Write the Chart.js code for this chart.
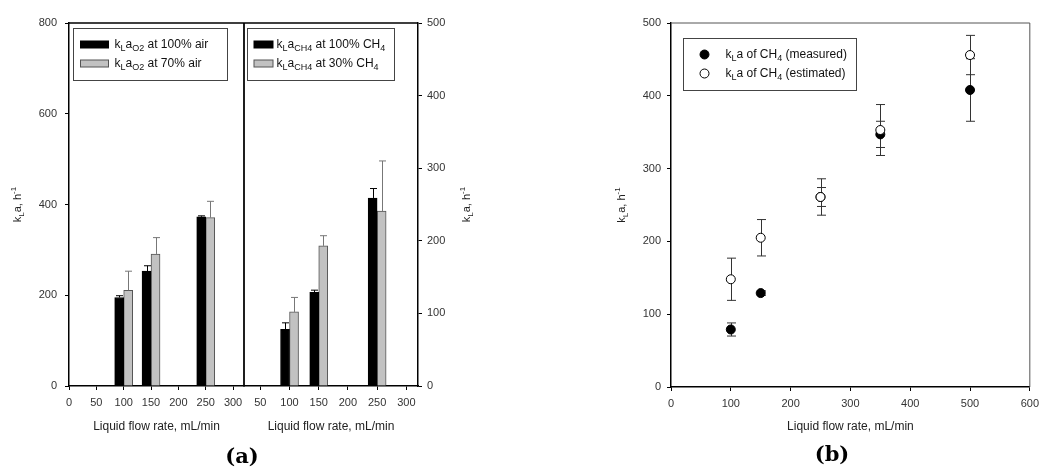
<!DOCTYPE html>
<html>
<head>
<meta charset="utf-8">
<script src="https://cdn.jsdelivr.net/npm/chart.js@4.4.0/dist/chart.umd.min.js"></script>
<style>
  body { margin: 0; background: #fff; width: 1045px; height: 470px; overflow: hidden; position: relative; }
  canvas { position: absolute; top: 0; }
</style>
</head>
<body>
<canvas id="cO2" width="250" height="470" style="left:0"></canvas>
<canvas id="cCH4" width="280" height="470" style="left:220px"></canvas>
<canvas id="cB" width="485" height="470" style="left:560px"></canvas>
<script>
// panel (a): flow rates and kLa values
const flowA = [100, 150, 250];
const o2Air100 = [195, 253, 373];
const o2Air100Err = [4, 12, 2];
const o2Air70 = [211, 291, 371];
const o2Air70Err = [42, 36, 36];
const ch4Full = [78, 129, 259];
const ch4FullErr = [9, 3, 13];
const ch4Low = [102, 193, 241];
const ch4LowErr = [20, 14, 69];

// panel (b)
const flowB = [100, 150, 250, 350, 500];
const measured = [79, 129, 261, 347, 408];
const measuredErr = [9, 3, 13, 18, 43];
const estimated = [148, 205, 261, 353, 456];
const estimatedErr = [29, 25, 25, 35, 27];

// tick labels
const xTicksO2 = [0, 50, 100, 150, 200, 250, 300];
const xTicksCH4 = [50, 100, 150, 200, 250, 300];
const yTicksO2 = [0, 200, 400, 600, 800];
const yTicksCH4 = [0, 100, 200, 300, 400, 500];
const xTicksB = [0, 100, 200, 300, 400, 500, 600];
const yTicksB = [0, 100, 200, 300, 400, 500];

const FONT = '"Liberation Sans", Arial, Helvetica, sans-serif';
Chart.defaults.font.family = FONT;
Chart.defaults.font.size = 11;
Chart.defaults.color = '#333';
Chart.defaults.animation = false;
Chart.defaults.plugins.legend.display = false;
Chart.defaults.plugins.tooltip.enabled = false;

const toXY = (xs, ys) => xs.map((x, i) => ({ x: x, y: ys[i] }));

// text with sub/superscripts: parts = [[text, ''|'sub'|'sup'], ...]
function richText(ctx, x, y, parts, size, align) {
  const small = Math.round(size * 0.72);
  const widths = parts.map(p => {
    ctx.font = (p[1] ? small : size) + 'px ' + FONT;
    return ctx.measureText(p[0]).width;
  });
  const total = widths.reduce((a, b) => a + b, 0);
  let cx = align === 'center' ? x - total / 2 : x;
  ctx.textBaseline = 'middle';
  ctx.textAlign = 'left';
  parts.forEach((p, i) => {
    ctx.font = (p[1] ? small : size) + 'px ' + FONT;
    let dy = 0;
    if (p[1] === 'sub') dy = size * 0.3;
    if (p[1] === 'sup') dy = -size * 0.35;
    ctx.fillText(p[0], cx, y + dy);
    cx += widths[i];
  });
}

const kLaTitle = [['k', ''], ['L', 'sub'], ['a, h', ''], ['-1', 'sup']];
const flowTitle = [['Liquid flow rate, mL/min', '']];

const framePlugin = {
  id: 'frame',
  afterDraw(chart, args, o) {
    const { ctx, chartArea: a } = chart;
    ctx.save();
    ctx.strokeStyle = o.color;
    ctx.lineWidth = o.width;
    ctx.beginPath();
    if (o.sides.includes('t')) { ctx.moveTo(a.left, a.top); ctx.lineTo(a.right, a.top); }
    if (o.sides.includes('r')) { ctx.moveTo(a.right, a.top); ctx.lineTo(a.right, a.bottom); }
    if (o.sides.includes('l')) { ctx.moveTo(a.left, a.top); ctx.lineTo(a.left, a.bottom); }
    ctx.stroke();
    ctx.restore();
  }
};

function drawErrors(chart) {
  const ctx = chart.ctx;
  const ys = chart.scales.y;
  chart.data.datasets.forEach((ds, i) => {
    if (!ds.errors) return;
    const meta = chart.getDatasetMeta(i);
    ctx.save();
    ctx.strokeStyle = ds.errorColor;
    ctx.lineWidth = 1;
    meta.data.forEach((el, j) => {
      const v = ds.data[j].y, e = ds.errors[j];
      const x = Math.round(el.x) + 0.5;
      const top = ys.getPixelForValue(v + e);
      const bot = ds.errorBoth ? ys.getPixelForValue(v - e) : ys.getPixelForValue(v);
      const c = ds.capWidth / 2;
      ctx.beginPath();
      ctx.moveTo(x, bot); ctx.lineTo(x, top);
      ctx.moveTo(x - c, top); ctx.lineTo(x + c, top);
      if (ds.errorBoth) { ctx.moveTo(x - c, bot); ctx.lineTo(x + c, bot); }
      ctx.stroke();
    });
    ctx.restore();
  });
}
const errorPlugin = {
  id: 'errors',
  beforeDatasetsDraw(chart, args, o) { if (o.layer === 'before') drawErrors(chart); },
  afterDatasetsDraw(chart, args, o) { if (o.layer !== 'before') drawErrors(chart); }
};

const legendPlugin = {
  id: 'richLegend',
  afterDraw(chart, args, o) {
    const { ctx, chartArea: a } = chart;
    const bx = Math.round(a.left + o.dx) + 0.5, by = Math.round(a.top + o.dy) + 0.5;
    ctx.save();
    ctx.strokeStyle = '#444';
    ctx.lineWidth = 1;
    ctx.strokeRect(bx, by, o.w, o.h);
    o.items.forEach((it, k) => {
      const cy = by + o.rows[k];
      if (it.kind === 'bar') {
        ctx.fillStyle = it.fill;
        ctx.fillRect(bx + o.swX, cy - 3.5, o.swW, 7);
        ctx.strokeStyle = it.stroke;
        ctx.strokeRect(bx + o.swX, cy - 3.5, o.swW, 7);
      } else {
        ctx.beginPath();
        ctx.arc(bx + o.swX, cy, 4.5, 0, Math.PI * 2);
        ctx.fillStyle = it.fill;
        ctx.fill();
        ctx.strokeStyle = '#000';
        ctx.stroke();
      }
      ctx.fillStyle = '#111';
      richText(ctx, bx + o.textX, cy, it.parts, 12, 'left');
    });
    ctx.restore();
  }
};

const titlePlugin = {
  id: 'titles',
  afterDraw(chart, args, o) {
    const { ctx, chartArea: a } = chart;
    ctx.save();
    ctx.fillStyle = '#222';
    if (o.xTitle) richText(ctx, (a.left + a.right) / 2, o.xTitleY, flowTitle, 12, 'center');
    if (o.yTitle) {
      ctx.save();
      ctx.translate(o.yTitleX, (a.top + a.bottom) / 2);
      ctx.rotate(-Math.PI / 2);
      richText(ctx, 0, 0, kLaTitle, 11, 'center');
      ctx.restore();
    }
    if (o.tag) {
      ctx.font = 'bold 21px "DejaVu Serif", "Liberation Serif", serif';
      ctx.textAlign = 'center';
      ctx.textBaseline = 'middle';
      ctx.fillStyle = '#000';
      ctx.fillText(o.tag, o.tagX, o.tagY);
    }
    ctx.restore();
  }
};

function axisX(min, max, ticks, height) {
  return {
    type: 'linear', min: min, max: max, offset: false,
    grid: { offset: false, drawOnChartArea: false, tickLength: 4, color: '#000' },
    border: { color: '#000', width: 1.5 },
    ticks: { padding: 6, maxRotation: 0, autoSkip: false },
    afterBuildTicks: s => { s.ticks = ticks.map(v => ({ value: v })); },
    afterFit: s => { s.height = height; }
  };
}
function axisY(max, ticks, pos, width, pad) {
  return {
    type: 'linear', position: pos, min: 0, max: max,
    grid: { drawOnChartArea: false, tickLength: 4, color: '#000' },
    border: { color: '#000', width: 1.5 },
    ticks: { padding: pad, autoSkip: false },
    afterBuildTicks: s => { s.ticks = ticks.map(v => ({ value: v })); },
    afterFit: s => { s.width = width; }
  };
}

const blackBar = { backgroundColor: '#000', borderColor: '#000', borderWidth: 1, barThickness: 9, errorColor: '#000', capWidth: 7 };
const greyBar = { backgroundColor: '#c2c2c2', borderColor: '#555', borderWidth: 1, barThickness: 9, errorColor: '#777', capWidth: 7 };

const o2Labels = [
  { kind: 'bar', fill: '#000', stroke: '#000', parts: [['k', ''], ['L', 'sub'], ['a', ''], ['O2', 'sub'], [' at 100% air', '']] },
  { kind: 'bar', fill: '#c2c2c2', stroke: '#555', parts: [['k', ''], ['L', 'sub'], ['a', ''], ['O2', 'sub'], [' at 70% air', '']] }
];
const ch4Labels = [
  { kind: 'bar', fill: '#000', stroke: '#000', parts: [['k', ''], ['L', 'sub'], ['a', ''], ['CH4', 'sub'], [' at 100% CH', ''], ['4', 'sub']] },
  { kind: 'bar', fill: '#c2c2c2', stroke: '#555', parts: [['k', ''], ['L', 'sub'], ['a', ''], ['CH4', 'sub'], [' at 30% CH', ''], ['4', 'sub']] }
];
const bLabels = [
  { kind: 'dot', fill: '#000', parts: [['k', ''], ['L', 'sub'], ['a of CH', ''], ['4', 'sub'], [' (measured)', '']] },
  { kind: 'dot', fill: '#fff', parts: [['k', ''], ['L', 'sub'], ['a of CH', ''], ['4', 'sub'], [' (estimated)', '']] }
];

// (a) left: O2
new Chart(document.getElementById('cO2'), {
  type: 'bar',
  data: {
    datasets: [
      Object.assign({ data: toXY(flowA, o2Air100), errors: o2Air100Err }, blackBar),
      Object.assign({ data: toXY(flowA, o2Air70), errors: o2Air70Err }, greyBar)
    ]
  },
  options: {
    responsive: false,
    layout: { padding: { top: 23, right: 6, left: 0, bottom: 0 } },
    scales: { x: axisX(0, 320, xTicksO2, 84), y: axisY(800, yTicksO2, 'left', 69, 8) },
    plugins: {
      frame: { sides: 'tr', color: '#000', width: 1.3 },
      errors: { layer: 'after' },
      richLegend: { dx: 4, dy: 4.5, w: 154, h: 52, rows: [16, 35], swX: 7, swW: 28, textX: 41, items: o2Labels },
      titles: { xTitle: true, xTitleY: 427, yTitle: true, yTitleX: 18 }
    }
  },
  plugins: [framePlugin, errorPlugin, legendPlugin, titlePlugin]
});

// (a) right: CH4
new Chart(document.getElementById('cCH4'), {
  type: 'bar',
  data: {
    datasets: [
      Object.assign({ data: toXY(flowA, ch4Full), errors: ch4FullErr }, blackBar),
      Object.assign({ data: toXY(flowA, ch4Low), errors: ch4LowErr }, greyBar)
    ]
  },
  options: {
    responsive: false,
    layout: { padding: { top: 23, right: 0, left: 24, bottom: 0 } },
    scales: { x: axisX(22, 320, xTicksCH4, 84), y: axisY(500, yTicksCH4, 'right', 82, 5) },
    plugins: {
      frame: { sides: 'tl', color: '#000', width: 1.3 },
      errors: { layer: 'after' },
      richLegend: { dx: 2.5, dy: 4.5, w: 147, h: 52, rows: [16, 35], swX: 6.5, swW: 19, textX: 29, items: ch4Labels },
      titles: { xTitle: true, xTitleY: 427, yTitle: true, yTitleX: 247, tag: '(a)', tagX: 22, tagY: 458 }
    }
  },
  plugins: [framePlugin, errorPlugin, legendPlugin, titlePlugin]
});

// (b) measured vs estimated
new Chart(document.getElementById('cB'), {
  type: 'scatter',
  data: {
    datasets: [
      { data: toXY(flowB, measured), errors: measuredErr, errorBoth: true, errorColor: '#333', capWidth: 9,
        order: 2, pointRadius: 4.5, backgroundColor: '#000', borderColor: '#000', borderWidth: 1 },
      { data: toXY(flowB, estimated), errors: estimatedErr, errorBoth: true, errorColor: '#333', capWidth: 9,
        order: 1, pointRadius: 4.5, backgroundColor: '#fff', borderColor: '#000', borderWidth: 1 }
    ]
  },
  options: {
    responsive: false,
    layout: { padding: { top: 23, right: 9, left: 0, bottom: 0 } },
    scales: { x: axisX(0, 600, xTicksB, 83), y: axisY(500, yTicksB, 'left', 111, 6) },
    plugins: {
      frame: { sides: 'tr', color: '#555', width: 1 },
      errors: { layer: 'before' },
      richLegend: { dx: 12, dy: 14.5, w: 173, h: 52, rows: [16, 35], swX: 21, swW: 0, textX: 42, items: bLabels },
      titles: { xTitle: true, xTitleY: 427, yTitle: true, yTitleX: 62, tag: '(b)', tagX: 272, tagY: 456 }
    }
  },
  plugins: [framePlugin, errorPlugin, legendPlugin, titlePlugin]
});
</script>
</body>
</html>
